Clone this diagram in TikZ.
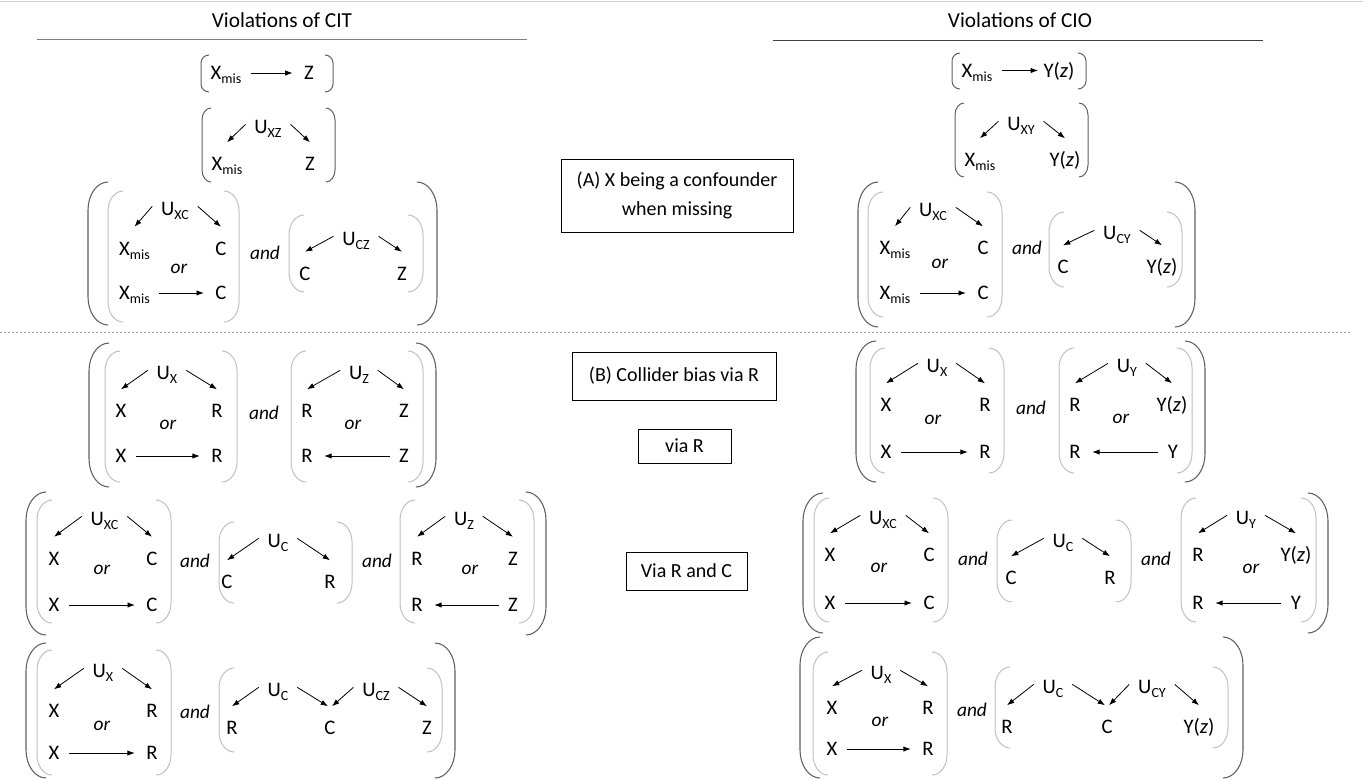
\documentclass[tikz,border=0pt]{standalone}
\usepackage{fontspec}
\setmainfont{Carlito}
\usetikzlibrary{arrows.meta}
\definecolor{dkbr}{HTML}{606060}
\definecolor{ltbr}{HTML}{C0C0C0}
\definecolor{topln}{HTML}{D0D0D0}
\definecolor{ruleA}{HTML}{808080}
\definecolor{ruleB}{HTML}{404040}
\definecolor{dashc}{HTML}{A6A6A6}
\newcommand\sbs[1]{\raisebox{-3pt}{\fontsize{10.5}{11}\selectfont #1}}
\newcommand\Xm{X\sbs{mis}}
\newcommand\Yz{Y(\textit{z})}
% style, xL, xR, yT, yB, serif, radius
\newcommand\bracketpair[7]{%
 \draw[#1] (#2+#6,#4) .. controls (#2+0.45*#6,#4) and (#2,#4+0.45*#7) .. (#2,#4+#7) -- (#2,#5-#7) .. controls (#2,#5-0.45*#7) and (#2+0.45*#6,#5) .. (#2+#6,#5);
 \draw[#1] (#3-#6,#4) .. controls (#3-0.45*#6,#4) and (#3,#4+0.45*#7) .. (#3,#4+#7) -- (#3,#5-#7) .. controls (#3,#5-0.45*#7) and (#3-0.45*#6,#5) .. (#3-#6,#5);
}
\newcommand\arrL[2]{\draw[arr] ([shift={(-4.5pt,2pt)}]#1.west) -- ([yshift=9.1pt]#2.north);}
\newcommand\arrR[2]{\draw[arr] ([shift={(4.5pt,2pt)}]#1.east) -- ([yshift=9.1pt]#2.north);}
\newcommand\arrH[3][]{\draw[arr,shorten <=5pt,shorten >=6.5pt,#1] (#2) -- (#3);}
\tikzset{
 lbl/.style={font=\fontsize{15.5}{18}\selectfont, text height=10pt, text depth=0pt, inner sep=2pt},
 conj/.style={lbl, font=\fontsize{14.5}{17}\selectfont\itshape},
 arr/.style={-{Latex[length=5.5pt,width=4pt]}, line width=0.6pt, draw=black},
 bigbr/.style={draw=dkbr, line width=0.8pt},
 inbr/.style={draw=ltbr, line width=0.75pt},
 topbr/.style={draw=dkbr, line width=0.75pt},
 mbox/.style={draw=black, line width=0.75pt, fill=white, font=\fontsize{15}{22}\selectfont, align=center, inner sep=0pt},
 ttl/.style={font=\fontsize{16}{19}\selectfont, inner sep=2pt},
 dashline/.style={draw=dashc, line width=0.6pt, dash pattern=on 1.5pt off 1.5pt},
}
\begin{document}
\begin{tikzpicture}[x=0.75pt,y=-0.75pt]
\useasboundingbox (0,0) rectangle (1363,779);
\draw[draw=topln, line width=0.75pt] (0,1) -- (1363,1);
\node[ttl] (tcit) at (282,20) {Violations of CIT};
\node[ttl] (tcio) at (1020,20) {Violations of CIO};
\draw[draw=ruleA, line width=0.75pt] (37,39) -- (527,39);
\draw[draw=ruleB, line width=0.75pt] (773,40) -- (1263,40);
\draw[dashline] (0,332) -- (1350,332);

% ---------------- brackets, left ----------------
\bracketpair{topbr}{201}{333}{55}{92}{8}{8}
\bracketpair{topbr}{202}{335}{108}{182}{9}{12}
\bracketpair{bigbr}{88}{437}{182}{325}{20}{28}
\bracketpair{inbr}{108}{239}{191}{322}{15}{20}
\bracketpair{inbr}{289}{423}{215}{292}{15}{20}
\bracketpair{bigbr}{89}{436}{343}{487}{20}{28}
\bracketpair{inbr}{105}{237}{351}{482}{15}{20}
\bracketpair{inbr}{291}{423}{351}{482}{15}{20}
\bracketpair{bigbr}{26}{546}{492}{635}{20}{28}
\bracketpair{inbr}{37}{171}{500}{623}{15}{20}
\bracketpair{inbr}{219}{352}{522}{603}{15}{20}
\bracketpair{inbr}{400}{534}{500}{623}{15}{20}
\bracketpair{bigbr}{26}{455}{643}{778}{20}{28}
\bracketpair{inbr}{37}{171}{650}{775}{15}{20}
\bracketpair{inbr}{219}{442}{668}{752}{15}{20}
% ---------------- brackets, right ----------------
\bracketpair{topbr}{952}{1086}{53}{89}{8}{8}
\bracketpair{topbr}{955}{1088}{103}{177}{9}{12}
\bracketpair{bigbr}{858}{1195}{182}{327}{20}{28}
\bracketpair{inbr}{868}{1002}{192}{317}{15}{20}
\bracketpair{inbr}{1049}{1182}{212}{287}{15}{20}
\bracketpair{bigbr}{856}{1205}{341}{482}{20}{28}
\bracketpair{inbr}{870}{1004}{348}{473}{15}{20}
\bracketpair{inbr}{1059}{1192}{348}{473}{15}{20}
\bracketpair{bigbr}{803}{1328}{493}{633}{20}{28}
\bracketpair{inbr}{814}{948}{498}{622}{15}{20}
\bracketpair{inbr}{997}{1131}{520}{602}{15}{20}
\bracketpair{inbr}{1181}{1316}{498}{622}{15}{20}
\bracketpair{bigbr}{800}{1243}{637}{778}{20}{28}
\bracketpair{inbr}{813}{947}{652}{775}{15}{20}
\bracketpair{inbr}{995}{1228}{667}{748}{15}{20}

% ---------------- middle boxes ----------------
\node[mbox, minimum width=174pt, minimum height=54.75pt] (boxA) at (677,195.5) {(A) X being a confounder\\when missing};
\node[mbox, minimum width=153pt, minimum height=36pt] (boxB) at (674,376) {(B) Collider bias via R};
\node[mbox, minimum width=69.75pt, minimum height=25.5pt] (boxC) at (684.5,446) {via R};
\node[mbox, minimum width=90.75pt, minimum height=28.5pt] (boxD) at (686.5,571) {Via R and C};

% ================= LEFT: CIT =================
\node[lbl] (a1x) at (226,73) {\Xm};
\node[lbl] (a1z) at (309,73) {Z};
\arrH{a1x}{a1z}

\node[lbl] (a2u) at (268,127) {U\sbs{XZ}};
\node[lbl] (a2x) at (227,164) {\Xm};
\node[lbl] (a2z) at (310,164) {Z};
\arrL{a2u}{a2x} \arrR{a2u}{a2z}

\node[lbl] (a3u) at (175,209) {U\sbs{XC}};
\node[lbl] (a3x1) at (134.5,248.5) {\Xm};
\node[lbl] (a3c1) at (221,248.5) {C};
\node[conj] (a3or) at (179,267) {or};
\node[lbl] (a3x2) at (134.5,293) {\Xm};
\node[lbl] (a3c2) at (221,293) {C};
\arrL{a3u}{a3x1} \arrR{a3u}{a3c1} \arrH{a3x2}{a3c2}
\node[conj] (a3and) at (265,253) {and};
\node[lbl] (a3v) at (356,239) {U\sbs{CZ}};
\node[lbl] (a3c3) at (305,273.5) {C};
\node[lbl] (a3z) at (402,273.5) {Z};
\arrL{a3v}{a3c3} \arrR{a3v}{a3z}

% B1 left
\node[lbl] (b1u) at (167,373) {U\sbs{X}};
\node[lbl] (b1x1) at (121,411) {X};
\node[lbl] (b1r1) at (217,411) {R};
\node[conj] (b1or) at (168,423) {or};
\node[lbl] (b1x2) at (121,456) {X};
\node[lbl] (b1r2) at (217,456) {R};
\arrL{b1u}{b1x1} \arrR{b1u}{b1r1} \arrH{b1x2}{b1r2}
\node[conj] (b1and) at (264,413) {and};
\node[lbl] (b1v) at (359,373) {U\sbs{Z}};
\node[lbl] (b1r3) at (307,411) {R};
\node[lbl] (b1z1) at (404,411) {Z};
\node[conj] (b1or2) at (353,423) {or};
\node[lbl] (b1r4) at (307,456) {R};
\node[lbl] (b1z2) at (404,456) {Z};
\arrL{b1v}{b1r3} \arrR{b1v}{b1z1} \arrH{b1z2}{b1r4}

% B2 left
\node[lbl] (b2u) at (104.5,519) {U\sbs{XC}};
\node[lbl] (b2x1) at (54,558.5) {X};
\node[lbl] (b2c1) at (152,558.5) {C};
\node[conj] (b2or) at (102,568) {or};
\node[lbl] (b2x2) at (54,605) {X};
\node[lbl] (b2c2) at (152,605) {C};
\arrL{b2u}{b2x1} \arrR{b2u}{b2c1} \arrH{b2x2}{b2c2}
\node[conj] (b2and) at (195,561) {and};
\node[lbl] (b2w) at (278,541) {U\sbs{C}};
\node[lbl] (b2c3) at (227,582) {C};
\node[lbl] (b2r1) at (330,582) {R};
\arrL{b2w}{b2c3} \arrR{b2w}{b2r1}
\node[conj] (b2and2) at (377,561) {and};
\node[lbl] (b2v) at (464,519) {U\sbs{Z}};
\node[lbl] (b2r2) at (417,558.5) {R};
\node[lbl] (b2z1) at (513,558.5) {Z};
\node[conj] (b2or2) at (470,568) {or};
\node[lbl] (b2r3) at (417,605) {R};
\node[lbl] (b2z2) at (513,605) {Z};
\arrL{b2v}{b2r2} \arrR{b2v}{b2z1} \arrH{b2z2}{b2r3}

% B3 left
\node[lbl] (b3u) at (103,671) {U\sbs{X}};
\node[lbl] (b3x1) at (54,711) {X};
\node[lbl] (b3r1) at (152,711) {R};
\node[conj] (b3or) at (102,724) {or};
\node[lbl] (b3x2) at (54,753) {X};
\node[lbl] (b3r2) at (152,753) {R};
\arrL{b3u}{b3x1} \arrR{b3u}{b3r1} \arrH{b3x2}{b3r2}
\node[conj] (b3and) at (195,712) {and};
\node[lbl] (b3w) at (278,690) {U\sbs{C}};
\node[lbl] (b3v) at (376,690) {U\sbs{CZ}};
\node[lbl] (b3r3) at (232,728) {R};
\node[lbl] (b3c) at (330,728) {C};
\node[lbl] (b3z) at (427,728) {Z};
\arrL{b3w}{b3r3}
\draw[arr] ([shift={(4.5pt,2pt)}]b3w.east) -- ([shift={(-1.5pt,9.1pt)}]b3c.north);
\draw[arr] ([shift={(-4.5pt,2pt)}]b3v.west) -- ([shift={(1.5pt,9.1pt)}]b3c.north);
\arrR{b3v}{b3z}

% ================= RIGHT: CIO =================
\node[lbl] (c1x) at (977,70.5) {\Xm};
\node[lbl] (c1y) at (1059,70.5) {\Yz};
\arrH[shorten >=2pt]{c1x}{c1y}

\node[lbl] (c2u) at (1021,124) {U\sbs{XY}};
\node[lbl] (c2x) at (980,160) {\Xm};
\node[lbl] (c2y) at (1065,160) {\Yz};
\arrL{c2u}{c2x} \arrR{c2u}{c2y}

\node[lbl] (c3u) at (933,210) {U\sbs{XC}};
\node[lbl] (c3x1) at (895,248) {\Xm};
\node[lbl] (c3c1) at (983,248) {C};
\node[conj] (c3or) at (940,262) {or};
\node[lbl] (c3x2) at (895,293) {\Xm};
\node[lbl] (c3c2) at (983,293) {C};
\arrL{c3u}{c3x1} \arrR{c3u}{c3c1} \arrH{c3x2}{c3c2}
\node[conj] (c3and) at (1027,248) {and};
\node[lbl] (c3v) at (1117,233) {U\sbs{CY}};
\node[lbl] (c3c3) at (1063,267) {C};
\node[lbl] (c3y) at (1162,267) {\Yz};
\arrL{c3v}{c3c3} \arrR{c3v}{c3y}

% B1 right
\node[lbl] (d1u) at (937,366) {U\sbs{X}};
\node[lbl] (d1x1) at (886,405) {X};
\node[lbl] (d1r1) at (985,405) {R};
\node[conj] (d1or) at (933,418) {or};
\node[lbl] (d1x2) at (886,452) {X};
\node[lbl] (d1r2) at (985,452) {R};
\arrL{d1u}{d1x1} \arrR{d1u}{d1r1} \arrH{d1x2}{d1r2}
\node[conj] (d1and) at (1031,408) {and};
\node[lbl] (d1v) at (1127,366) {U\sbs{Y}};
\node[lbl] (d1r3) at (1075,405) {R};
\node[lbl] (d1y1) at (1172,405) {\Yz};
\node[conj] (d1or2) at (1121,417) {or};
\node[lbl] (d1r4) at (1075,452) {R};
\node[lbl] (d1y2) at (1173,452) {Y};
\arrL{d1v}{d1r3} \arrR{d1v}{d1y1} \arrH{d1y2}{d1r4}

% B2 right
\node[lbl] (d2u) at (883,518) {U\sbs{XC}};
\node[lbl] (d2x1) at (830,555) {X};
\node[lbl] (d2c1) at (929,555) {C};
\node[conj] (d2or) at (879,566) {or};
\node[lbl] (d2x2) at (830,603) {X};
\node[lbl] (d2c2) at (929,603) {C};
\arrL{d2u}{d2x1} \arrR{d2u}{d2c1} \arrH{d2x2}{d2c2}
\node[conj] (d2and) at (973,559) {and};
\node[lbl] (d2w) at (1063,541) {U\sbs{C}};
\node[lbl] (d2c3) at (1011,578) {C};
\node[lbl] (d2r1) at (1110,578) {R};
\arrL{d2w}{d2c3} \arrR{d2w}{d2r1}
\node[conj] (d2and2) at (1156,559) {and};
\node[lbl] (d2v) at (1246,518) {U\sbs{Y}};
\node[lbl] (d2r2) at (1198,555) {R};
\node[lbl] (d2y1) at (1296,555) {\Yz};
\node[conj] (d2or2) at (1251,567) {or};
\node[lbl] (d2r3) at (1198,603) {R};
\node[lbl] (d2y2) at (1296,603) {Y};
\arrL{d2v}{d2r2} \arrR{d2v}{d2y1} \arrH{d2y2}{d2r3}

% B3 right
\node[lbl] (d3u) at (881,673) {U\sbs{X}};
\node[lbl] (d3x1) at (832,708) {X};
\node[lbl] (d3r1) at (928,708) {R};
\node[conj] (d3or) at (880,720) {or};
\node[lbl] (d3x2) at (832,749) {X};
\node[lbl] (d3r2) at (928,749) {R};
\arrL{d3u}{d3x1} \arrR{d3u}{d3r1} \arrH{d3x2}{d3r2}
\node[conj] (d3and) at (972,710) {and};
\node[lbl] (d3w) at (1053,687) {U\sbs{C}};
\node[lbl] (d3v) at (1152,687) {U\sbs{CY}};
\node[lbl] (d3r3) at (1007,727) {R};
\node[lbl] (d3c) at (1107,727) {C};
\node[lbl] (d3y) at (1199,727) {\Yz};
\arrL{d3w}{d3r3}
\draw[arr] ([shift={(4.5pt,2pt)}]d3w.east) -- ([shift={(-1.5pt,9.1pt)}]d3c.north);
\draw[arr] ([shift={(-4.5pt,2pt)}]d3v.west) -- ([shift={(1.5pt,9.1pt)}]d3c.north);
\arrR{d3v}{d3y}
\end{tikzpicture}
\end{document}
